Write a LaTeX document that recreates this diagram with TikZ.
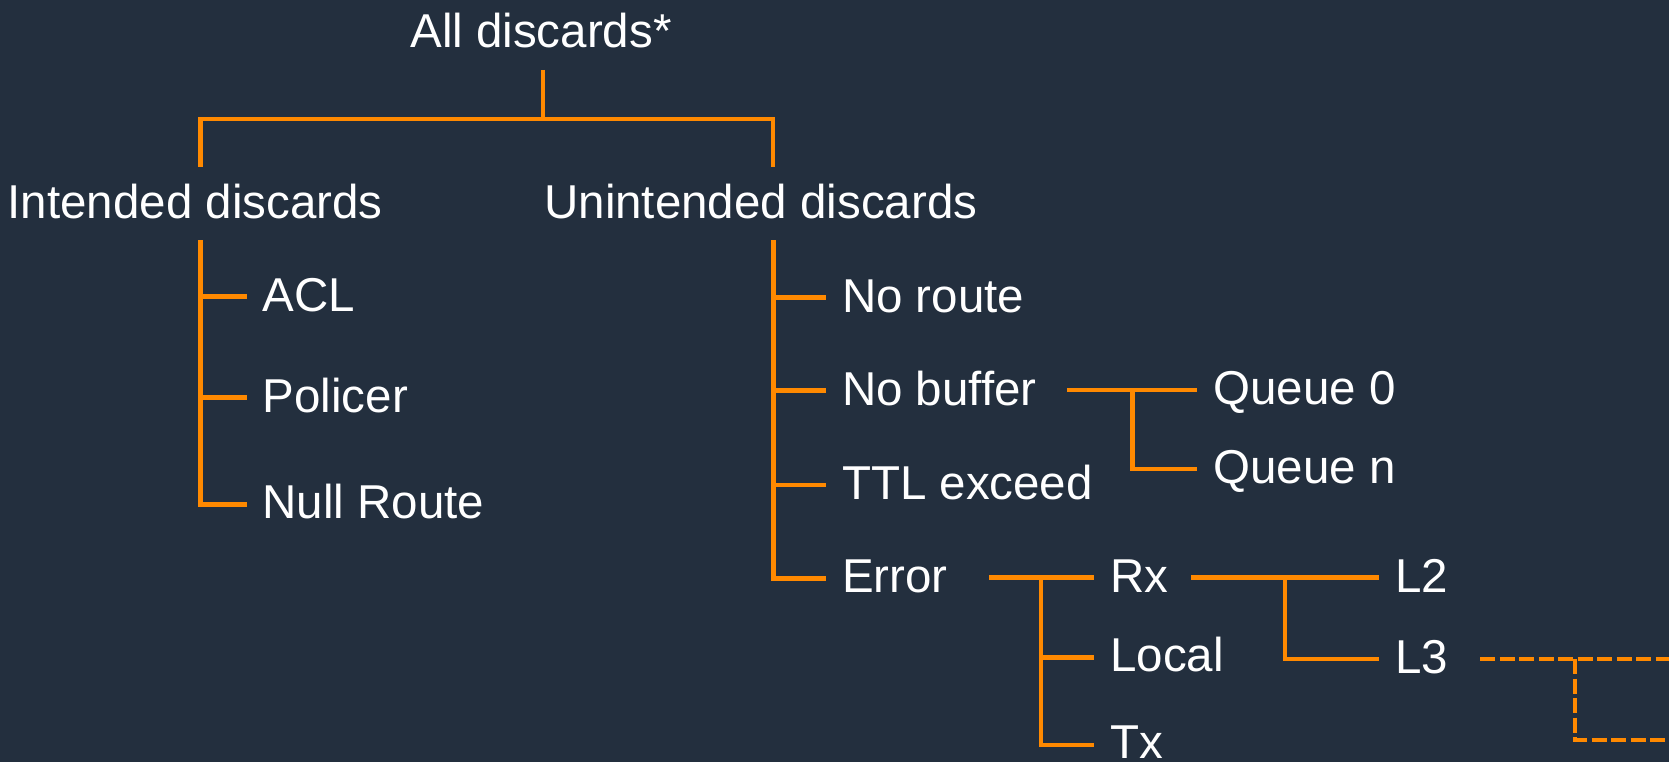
\documentclass[tikz,border=0pt]{standalone}
\usepackage{fontspec}
\newfontfamily\lblfont{Liberation Sans}
\definecolor{squid}{HTML}{232F3E}
\definecolor{branchorange}{RGB}{255,137,0}
\begin{document}
\begin{tikzpicture}[x=1pt,y=-1pt,
  lbl/.style={font={\lblfont\fontsize{47.5pt}{52pt}\selectfont}, text=white,
    anchor=west, inner xsep=16pt, inner ysep=0pt, outer sep=0pt,
    text height=29pt, text depth=0pt},
  conn/.style={draw=branchorange, line width=4.5pt, line join=miter},
  dashconn/.style={conn, dash pattern=on 15pt off 4.5pt}]

% canvas
\fill[squid] (0,0) rectangle (1669,762);
\useasboundingbox (0,0) rectangle (1669,762);

% top level
\node[lbl, anchor=base, inner xsep=0pt] (root) at (541,48) {All discards*};
\node[lbl] (intended) at (-8.3,203.5) {Intended discards};
\node[lbl] (unintended) at (528.3,203.5) {Unintended discards};

\coordinate (rootdrop) at (543,70);
\coordinate (bar) at (543,119);
\coordinate (intop) at (200.7,167);
\coordinate (untop) at (773,167);
\draw[conn] (rootdrop) -- (bar);
\draw[conn] (intop) |- (bar) -| (untop);

% intended discards
\node[lbl] (acl) at (246.7,296.7) {ACL};
\node[lbl] (policer) at (246.7,397.7) {Policer};
\node[lbl] (nullroute) at (246.7,504.3) {Null Route};
\coordinate (ltrunk) at (200.7,240);
\draw[conn] (ltrunk) |- (nullroute.west);
\draw[conn] (acl.west -| ltrunk) -- (acl.west);
\draw[conn] (policer.west -| ltrunk) -- (policer.west);

% unintended discards
\node[lbl] (noroute) at (826,297.7) {No route};
\node[lbl] (nobuffer) at (826,390.5) {No buffer};
\node[lbl] (ttl) at (826,485) {TTL exceed};
\node[lbl] (error) at (826,578.3) {Error};
\coordinate (rtrunk) at (773.3,240);
\draw[conn] (rtrunk) |- (error.west);
\draw[conn] (noroute.west -| rtrunk) -- (noroute.west);
\draw[conn] (nobuffer.west -| rtrunk) -- (nobuffer.west);
\draw[conn] (ttl.west -| rtrunk) -- (ttl.west);

% no buffer -> queues
\node[lbl] (queue0) at (1197.3,390) {Queue 0};
\node[lbl] (queuen) at (1197.3,469) {Queue n};
\coordinate (nbout) at (1067.3,390);
\coordinate (nbfork) at (1132.3,390);
\draw[conn] (nbout) -- (queue0.west);
\draw[conn] (nbfork) |- (queuen.west);

% error -> rx / local / tx
\node[lbl] (rx) at (1094.3,577.5) {Rx};
\node[lbl] (local) at (1094.3,657.3) {Local};
\node[lbl, text height=27pt] (tx) at (1094.3,745) {Tx};
\coordinate (errout) at (989.3,577.5);
\coordinate (errfork) at (1041,577.5);
\draw[conn] (errout) -- (rx.west);
\draw[conn] (errfork) |- (tx.west);
\draw[conn] (local.west -| errfork) -- (local.west);

% rx -> L2 / L3
\node[lbl] (ltwo) at (1379.3,577.5) {L2};
\node[lbl] (lthree) at (1379.3,659) {L3};
\coordinate (rxout) at (1191,577.5);
\coordinate (rxfork) at (1285,577.5);
\draw[conn] (rxout) -- (ltwo.west);
\draw[conn] (rxfork) |- (lthree.west);

% L3 continues off the edge (dashed)
\coordinate (l3out) at (1480,659);
\coordinate (l3edge) at (1680,659);
\coordinate (dfork) at (1575,659);
\coordinate (dedge) at (1680,740);
\draw[dashconn] (l3out) -- (l3edge);
\draw[dashconn] (dfork) |- (dedge);
\end{tikzpicture}
\end{document}
